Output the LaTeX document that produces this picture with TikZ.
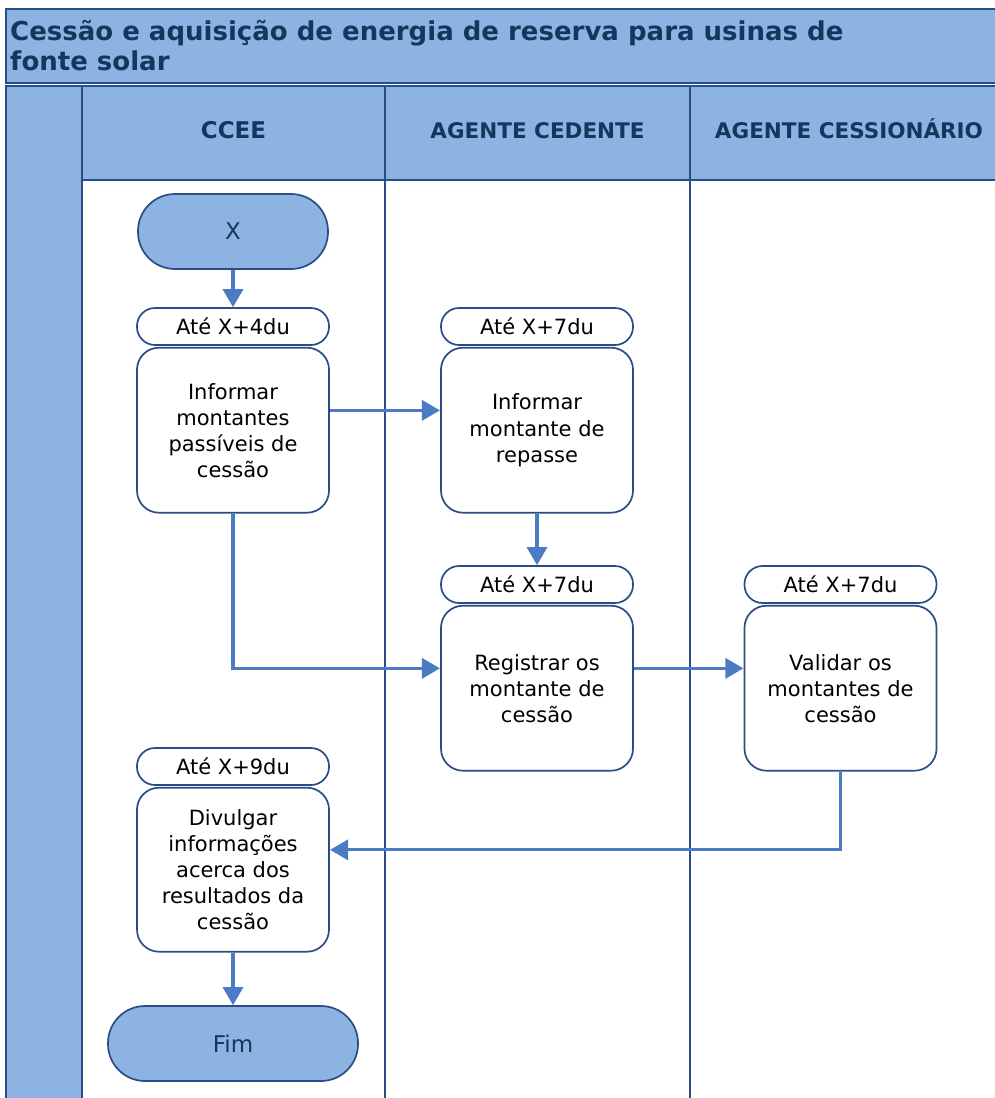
\documentclass[tikz,border=0pt]{standalone}
\usepackage{fontspec}
\setmainfont{DejaVu Sans}
\usetikzlibrary{arrows.meta,positioning,fit,calc}
\definecolor{azulclaro}{HTML}{8DB3E2}
\definecolor{contorno}{HTML}{2A4D85}
\definecolor{azulseta}{HTML}{4A7BC4}
\definecolor{azultexto}{HTML}{17365D}
\tikzset{
    %Define standard arrow tip
    >={Triangle[width=20pt,length=18pt]},
    % Define style for lanes
    raia/.style={
           draw=contorno,
           line width=1.2pt},
    % Define arrow style
    fluxo/.style={
           ->,
           draw=azulseta,
           line width=3.2pt}
}

\begin{document}
\begin{tikzpicture}[x=1pt,y=-1pt]
	% styles
	\tikzstyle{term} = [draw=contorno, fill=azulclaro, line width=1.7pt, rounded corners=37pt,
	                    minimum width=190pt, minimum height=75pt, text=azultexto,
	                    font=\fontsize{23}{26}\selectfont]
	\tikzstyle{prazo} = [draw=contorno, fill=white, line width=1.7pt, rounded corners=18pt,
	                     minimum width=192pt, minimum height=37pt, inner sep=0pt,
	                     font=\fontsize{21}{24}\selectfont]
	\tikzstyle{acao} = [draw=contorno, fill=white, line width=1.7pt, rounded corners=22pt,
	                    minimum width=192pt, minimum height=165pt, inner sep=0pt, align=center,
	                    font=\fontsize{21}{26}\selectfont]
	\tikzstyle{cabeca} = [anchor=base, text=azultexto, font=\bfseries\fontsize{21.5}{24}\selectfont]

	\useasboundingbox (0,0) rectangle (995,1098);
	\fill[white] (0,0) rectangle (995,1098);

	% lanes
	\draw[raia, fill=azulclaro] (6,9) rectangle (1000,83);
	\draw[raia, fill=azulclaro] (6,86) rectangle (82,1102);
	\draw[raia, fill=azulclaro] (82,86) rectangle (1000,180);
	\draw[raia] (385,86) -- (385,1102)
	            (690,86) -- (690,1102);

	\node[anchor=north west, align=left, inner sep=0pt, text=azultexto,
	      font=\bfseries\fontsize{26}{30}\selectfont] (titulo) at (10,20)
	      {Cessão e aquisição de energia de reserva para usinas de\\fonte solar};

	\node[cabeca, font=\bfseries\fontsize{23}{24}\selectfont] (ccee) at (233.5,138.5) {CCEE};
	\node[cabeca] (cedente) at (537.5,138.5) {AGENTE CEDENTE};
	\node[cabeca] (cessionario) at (849,138.5) {AGENTE CESSIONÁRIO};

	% CCEE
	\node[term] (inicio) at (233,231.5) {X};
	\node[prazo] (p-inf) at (233,326.5) {Até X+4du};
	\node[acao, below=1pt of p-inf] (a-inf) {Informar\\montantes\\passíveis de\\cessão};

	\node[prazo] (p-div) at (233,766.5) {Até X+9du};
	\node[acao, below=1pt of p-div, minimum height=164pt] (a-div)
	     {Divulgar\\informações\\acerca dos\\resultados da\\cessão};

	\node[term, minimum width=250pt] (fim) at (233,1043.5) {Fim};

	% agente cedente
	\node[prazo] (p-rep) at (537,326.5) {Até X+7du};
	\node[acao, below=1pt of p-rep] (a-rep) {Informar\\montante de\\repasse};

	\node[prazo] (p-reg) at (537,584.5) {Até X+7du};
	\node[acao, below=1pt of p-reg] (a-reg) {Registrar os\\montante de\\cessão};

	% agente cessionario
	\node[prazo] (p-val) at (840.5,584.5) {Até X+7du};
	\node[acao, below=1pt of p-val] (a-val) {Validar os\\montantes de\\cessão};

	% groups
	\node[fit=(p-inf)(a-inf), inner sep=0pt] (g-inf) {};
	\node[fit=(p-rep)(a-rep), inner sep=0pt] (g-rep) {};
	\node[fit=(p-reg)(a-reg), inner sep=0pt] (g-reg) {};
	\node[fit=(p-val)(a-val), inner sep=0pt] (g-val) {};
	\node[fit=(p-div)(a-div), inner sep=0pt] (g-div) {};

	% arrows
	\draw[fluxo] (inicio) -- (p-inf);
	\draw[fluxo] (g-inf.east) -- (g-rep.west);
	\draw[fluxo] (a-rep) -- (p-reg);
	\draw[fluxo] (a-inf.south) |- (g-reg.west);
	\draw[fluxo] (g-reg.east) -- (g-val.west);
	\draw[fluxo] (a-val.south) |- (g-div.east);
	\draw[fluxo] (a-div) -- (fim);

\end{tikzpicture}
\end{document}
